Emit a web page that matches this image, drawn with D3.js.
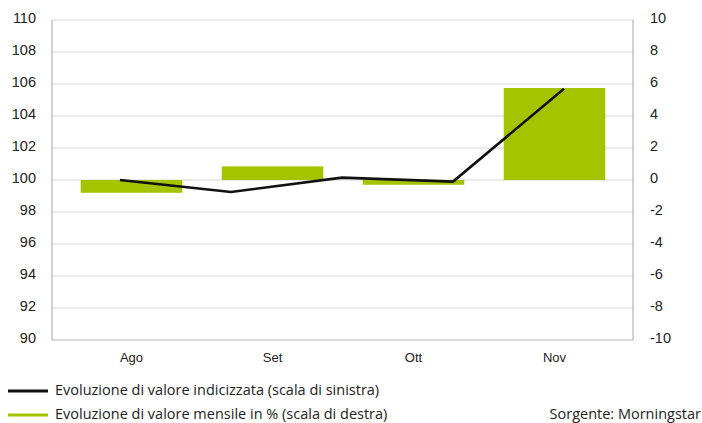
<!DOCTYPE html>
<html>
  <head>
    <meta charset="UTF-8" />
    <title>Evoluzione di valore</title>
    <script src="https://d3js.org/d3.v7.min.js"></script>
    <style>
      body {
        margin: 0;
        background: #fff;
        font-family: "Open Sans", Arial, sans-serif;
      }
      text {
        fill: #222;
      }
    </style>
  </head>
  <body>
    <div id="chart"></div>
    <script>
      const months = ["Ago", "Set", "Ott", "Nov"];
      const monthlyPct = [-0.8, 0.85, -0.3, 5.75];
      const indexValues = [100, 99.25, 100.15, 99.9, 105.7];
      const leftTicks = [90, 92, 94, 96, 98, 100, 102, 104, 106, 108, 110];
      const rightTicks = [-10, -8, -6, -4, -2, 0, 2, 4, 6, 8, 10];

      const width = 702;
      const height = 423;
      const plot = { left: 52, right: 633, top: 20, bottom: 340 };
      const green = "#a5c400";

      const svg = d3
        .select("#chart")
        .append("svg")
        .attr("width", width)
        .attr("height", height);

      const yLeft = d3.scaleLinear().domain([90, 110]).range([plot.bottom, plot.top]);
      const yRight = d3.scaleLinear().domain([-10, 10]).range([plot.bottom, plot.top]);
      const x = d3
        .scaleBand()
        .domain(months)
        .range([61, 625])
        .paddingInner(0.28)
        .paddingOuter(0.14);
      const xLine = d3
        .scaleLinear()
        .domain([0, indexValues.length - 1])
        .range([120, 564]);

      // gridlines
      svg
        .append("g")
        .selectAll("line")
        .data(leftTicks)
        .enter()
        .append("line")
        .attr("x1", plot.left)
        .attr("x2", plot.right)
        .attr("y1", (d) => yLeft(d))
        .attr("y2", (d) => yLeft(d))
        .attr("stroke", (d) => (d === 90 ? "#b4b4b4" : "#d6d6d6"))
        .attr("stroke-width", 1.2);

      // left/right frame
      [plot.left, plot.right].forEach((px) => {
        svg
          .append("line")
          .attr("x1", px)
          .attr("x2", px)
          .attr("y1", plot.top)
          .attr("y2", plot.bottom)
          .attr("stroke", "#b4b4b4")
          .attr("stroke-width", 1.2);
      });

      // bars
      svg
        .append("g")
        .selectAll("rect")
        .data(monthlyPct)
        .enter()
        .append("rect")
        .attr("x", (d, i) => x(months[i]))
        .attr("width", x.bandwidth())
        .attr("y", (d) => yRight(Math.max(0, d)))
        .attr("height", (d) => Math.abs(yRight(d) - yRight(0)))
        .attr("fill", green);

      // line
      const line = d3
        .line()
        .x((d, i) => xLine(i))
        .y((d) => yLeft(d));
      svg
        .append("path")
        .datum(indexValues)
        .attr("d", line)
        .attr("fill", "none")
        .attr("stroke", "#111")
        .attr("stroke-width", 2.6)
        .attr("stroke-linejoin", "miter");

      // axes
      const leftAxis = svg
        .append("g")
        .attr("transform", `translate(${plot.left},0)`)
        .call(
          d3
            .axisLeft(yLeft)
            .tickValues(leftTicks)
            .tickFormat((d) => String(d))
            .tickSize(0)
            .tickPadding(16)
        );
      leftAxis.select(".domain").remove();
      leftAxis.selectAll("text").style("font-size", "14.5px").attr("dy", "0.2em");

      const rightAxis = svg
        .append("g")
        .attr("transform", `translate(${plot.right},0)`)
        .call(
          d3
            .axisRight(yRight)
            .tickValues(rightTicks)
            .tickFormat((d) => String(d))
            .tickSize(0)
            .tickPadding(17)
        );
      rightAxis.select(".domain").remove();
      rightAxis.selectAll("text").style("font-size", "14.5px").attr("dy", "0.2em");

      const bottomAxis = svg
        .append("g")
        .attr("transform", `translate(0,${plot.bottom})`)
        .call(d3.axisBottom(x).tickSize(0).tickPadding(13));
      bottomAxis.select(".domain").remove();
      bottomAxis.selectAll("text").style("font-size", "13px");

      // legend
      const legendItems = [
        { label: "Evoluzione di valore indicizzata (scala di sinistra)", color: "#111", y: 391 },
        { label: "Evoluzione di valore mensile in % (scala di destra)", color: green, y: 415 },
      ];
      const legend = svg.append("g").selectAll("g").data(legendItems).enter().append("g");
      legend
        .append("line")
        .attr("x1", 8)
        .attr("x2", 48)
        .attr("y1", (d) => d.y)
        .attr("y2", (d) => d.y)
        .attr("stroke", (d) => d.color)
        .attr("stroke-width", 3);
      legend
        .append("text")
        .attr("x", 55)
        .attr("y", (d) => d.y + 3.5)
        .style("font-size", "14.5px")
        .text((d) => d.label);

      svg
        .append("text")
        .attr("x", 701)
        .attr("y", 418.5)
        .attr("text-anchor", "end")
        .style("font-size", "14.5px")
        .text("Sorgente: Morningstar");
    </script>
  </body>
</html>
